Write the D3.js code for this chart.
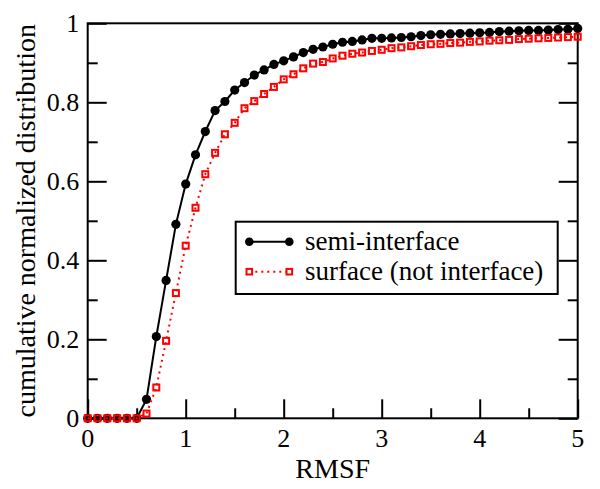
<!DOCTYPE html>
<html>
<head>
<meta charset="utf-8">
<script src="https://cdn.jsdelivr.net/npm/d3@7"></script>
<style>
  html, body { margin: 0; padding: 0; background: #fff; }
  svg text { font-family: "Liberation Serif", "Times New Roman", Times, Tinos, "DejaVu Serif", "Noto Serif", serif; }
</style>
</head>
<body>
<svg id="chart" width="600" height="489"></svg>
<script>
// ---- data ----
const rmsf = [0.0,0.1,0.2,0.3,0.4,0.5,0.6,0.7,0.8,0.9,1.0,1.1,1.2,1.3,1.4,1.5,1.6,1.7,1.8,1.9,
              2.0,2.1,2.2,2.3,2.4,2.5,2.6,2.7,2.8,2.9,3.0,3.1,3.2,3.3,3.4,3.5,3.6,3.7,3.8,3.9,
              4.0,4.1,4.2,4.3,4.4,4.5,4.6,4.7,4.8,4.9,5.0];
const semiInterface = [0,0,0,0,0,0,0.048,0.207,0.349,0.491,0.593,0.667,0.726,0.779,0.802,0.831,0.850,0.869,0.882,0.896,
              0.905,0.915,0.926,0.934,0.940,0.947,0.952,0.954,0.958,0.962,0.962,0.963,0.964,0.966,0.969,0.971,0.972,0.973,0.974,0.975,
              0.976,0.977,0.979,0.980,0.981,0.982,0.982,0.983,0.984,0.985,0.987];
const surface = [0,0,0,0,0,0,0.012,0.078,0.196,0.317,0.437,0.533,0.618,0.672,0.719,0.748,0.785,0.803,0.821,0.839,
              0.858,0.871,0.886,0.898,0.902,0.911,0.918,0.923,0.926,0.930,0.933,0.937,0.939,0.942,0.945,0.947,0.948,0.950,0.951,0.953,
              0.954,0.956,0.957,0.958,0.960,0.961,0.962,0.963,0.964,0.965,0.966];
const seriesNames = ["semi-interface", "surface (not interface)"];
const xTicks = [0,1,2,3,4,5];
const xMinor = [0.5,1.5,2.5,3.5,4.5];
const yTicks = [0,0.2,0.4,0.6,0.8,1];
const yMinor = [0.1,0.3,0.5,0.7,0.9];
const xLabel = "RMSF";
const yLabel = "cumulative normalized distribution";

// ---- layout ----
const FONT = '"Liberation Serif", "Times New Roman", Times, Tinos, "DejaVu Serif", "Noto Serif", serif';
const svg = d3.select("#chart");
const L = 87.7, R = 577.7, T = 23.3, B = 418.3;
const x = d3.scaleLinear().domain([0,5]).range([L,R]);
const y = d3.scaleLinear().domain([0,1]).range([B,T]);

const major = 19, minor = 10;
function styleAxis(g){ g.select(".domain").remove(); g.selectAll("line").attr("stroke","#000").attr("stroke-width",2); }

svg.append("g").attr("transform",`translate(0,${B})`)
  .call(d3.axisTop(x).tickValues(xTicks).tickSize(major).tickFormat(""))
  .call(styleAxis);
svg.append("g").attr("transform",`translate(0,${B})`)
  .call(d3.axisTop(x).tickValues(xMinor).tickSize(minor).tickFormat(""))
  .call(styleAxis);
svg.append("g").attr("transform",`translate(${L},0)`)
  .call(d3.axisRight(y).tickValues(yTicks).tickSize(major).tickFormat(""))
  .call(styleAxis);
svg.append("g").attr("transform",`translate(${L},0)`)
  .call(d3.axisRight(y).tickValues(yMinor).tickSize(minor).tickFormat(""))
  .call(styleAxis);
svg.append("g").attr("transform",`translate(${R},0)`)
  .call(d3.axisLeft(y).tickValues(yTicks).tickSize(major).tickFormat(""))
  .call(styleAxis);
svg.append("g").attr("transform",`translate(${R},0)`)
  .call(d3.axisLeft(y).tickValues(yMinor).tickSize(minor).tickFormat(""))
  .call(styleAxis);

// frame
svg.append("rect").attr("x",L).attr("y",T).attr("width",R-L).attr("height",B-T)
  .attr("fill","none").attr("stroke","#000").attr("stroke-width",2);

// tick labels
const fmt = d => d === 0 ? "0" : (d === 1 ? "1" : d3.format(".1f")(d));
svg.append("g").selectAll("text").data(xTicks).join("text")
  .attr("x", d => x(d)).attr("y", B + 28.5)
  .attr("text-anchor","middle").attr("font-family",FONT).attr("font-size",26).attr("fill","#000")
  .text(d => d);
svg.append("g").selectAll("text").data(yTicks).join("text")
  .attr("x", L - 8.5).attr("y", d => y(d)).attr("dy","0.34em")
  .attr("text-anchor","end").attr("font-family",FONT).attr("font-size",26).attr("fill","#000")
  .text(fmt);

// axis labels
svg.append("text").attr("x",(L+R)/2).attr("y",478).attr("text-anchor","middle")
  .attr("font-family",FONT).attr("font-size",28).attr("fill","#000").text(xLabel);
svg.append("text").attr("transform",`translate(35,${(T+B)/2}) rotate(-90)`)
  .attr("text-anchor","middle").attr("font-family",FONT).attr("font-size",28).attr("fill","#000").text(yLabel);

// series
const lineGen = (vals) => d3.line().x((d,i)=>x(rmsf[i])).y(d=>y(d))(vals);

svg.append("path").attr("d", lineGen(semiInterface))
  .attr("fill","none").attr("stroke","#000").attr("stroke-width",2);
svg.append("g").selectAll("circle").data(semiInterface).join("circle")
  .attr("cx",(d,i)=>x(rmsf[i])).attr("cy",d=>y(d)).attr("r",4.6).attr("fill","#000");

svg.append("path").attr("d", lineGen(surface))
  .attr("fill","none").attr("stroke","#ff0000").attr("stroke-width",2).attr("stroke-dasharray","2,4");
const sq = 6;
svg.append("g").selectAll("rect").data(surface).join("rect")
  .attr("x",(d,i)=>x(rmsf[i])-sq/2).attr("y",d=>y(d)-sq/2)
  .attr("width",sq).attr("height",sq)
  .attr("fill","none").attr("stroke","#ff0000").attr("stroke-width",2);

// legend
const lg = svg.append("g");
lg.append("rect").attr("x",235.7).attr("y",221.7).attr("width",322).attr("height",72.3)
  .attr("fill","#fff").attr("stroke","#000").attr("stroke-width",2);
const lx1 = 249.3, lx2 = 289.3, ly1 = 241.7, ly2 = 271.7;
lg.append("line").attr("x1",lx1).attr("x2",lx2).attr("y1",ly1).attr("y2",ly1)
  .attr("stroke","#000").attr("stroke-width",2);
[lx1,lx2].forEach(px => lg.append("circle").attr("cx",px).attr("cy",ly1).attr("r",4.3).attr("fill","#000"));
lg.append("line").attr("x1",lx1).attr("x2",lx2).attr("y1",ly2).attr("y2",ly2)
  .attr("stroke","#ff0000").attr("stroke-width",2).attr("stroke-dasharray","2,4");
[lx1,lx2].forEach(px => lg.append("rect").attr("x",px-2.8).attr("y",ly2-2.8).attr("width",5.6).attr("height",5.6)
  .attr("fill","#fff").attr("stroke","#ff0000").attr("stroke-width",2));
lg.append("text").attr("x",305).attr("y",249.5).attr("font-family",FONT).attr("font-size",27).attr("fill","#000").text(seriesNames[0]);
lg.append("text").attr("x",305).attr("y",279.5).attr("font-family",FONT).attr("font-size",27).attr("fill","#000").text(seriesNames[1]);
</script>
</body>
</html>
